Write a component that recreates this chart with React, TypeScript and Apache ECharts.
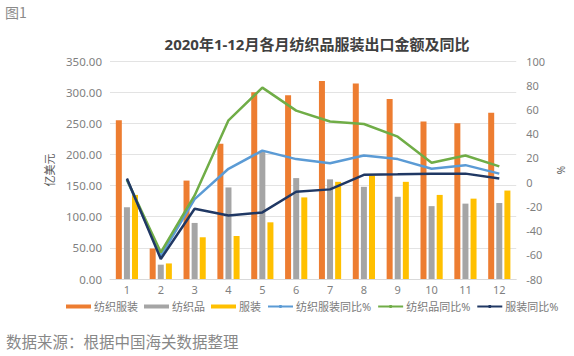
import React, { useEffect, useRef } from "react";
import * as echarts from "echarts";

const months = ["1", "2", "3", "4", "5", "6", "7", "8", "9", "10", "11", "12"];
const textileApparel = [255, 49, 158, 217, 300, 295, 318, 314, 289, 253, 250, 267];
const textiles = [115, 23, 90, 147, 206, 162, 160, 148, 132, 117, 121, 122];
const apparel = [135, 25, 67, 69, 91, 131, 156, 166, 156, 135, 129, 142];
const yoyTextileApparel = [2, -61, -14, 11, 26, 19, 15.5, 22, 19, 11, 14, 7];
const yoyTextiles = [2, -58, -11, 51, 78, 59, 50, 48, 37.5, 16, 22, 13];
const yoyApparel = [3, -63.5, -22, -27.5, -25, -8, -6, 6, 6.4, 7, 7, 3];

const FONT = "'Noto Sans', 'Noto Sans CJK SC', sans-serif";
const LABEL = "#7f7f7f";

export default function App() {
  const ref = useRef<HTMLDivElement>(null);
  useEffect(() => {
    if (!ref.current) return;
    const chart = echarts.init(ref.current, undefined, { renderer: "svg" });
    chart.setOption({
      animation: false,
      backgroundColor: "#ffffff",
      textStyle: { fontFamily: FONT },
      title: {
        text: "2020年1-12月各月纺织品服装出口金额及同比",
        left: 312,
        textAlign: "center",
        top: 31,
        textStyle: { fontSize: 15, fontWeight: "bold", color: "#404040", fontFamily: FONT },
      },
      graphic: [
        {
          type: "text",
          left: 5,
          top: 5,
          style: { text: "图1", fill: "#8a8a8a", font: "14px 'Noto Sans CJK SC'" },
        },
        {
          type: "text",
          left: 6,
          top: 333,
          style: {
            text: "数据来源：根据中国海关数据整理",
            fill: "#888888",
            font: "15.5px 'Noto Sans CJK SC'",
          },
        },
      ],
      legend: {
        left: 66,
        top: 301,
        width: 520,
        padding: 0,
        itemWidth: 25,
        itemHeight: 4,
        itemGap: 6,
        textStyle: { fontSize: 11, color: "#7a7a7a", fontFamily: FONT, padding: [0, 0, 0, -2] },
        data: [
          { name: "纺织服装", icon: "rect" },
          { name: "纺织品", icon: "rect" },
          { name: "服装", icon: "rect" },
          { name: "纺织服装同比%" },
          { name: "纺织品同比%" },
          { name: "服装同比%" },
        ],
      },
      grid: { left: 110, right: 41, top: 61, bottom: 77 },
      xAxis: {
        type: "category",
        data: months,
        axisTick: { show: false },
        axisLine: { lineStyle: { color: "#d9d9d9" } },
        axisLabel: { color: LABEL, fontSize: 11, margin: 5 },
      },
      yAxis: [
        {
          type: "value",
          min: 0,
          max: 350,
          interval: 50,
          name: "亿美元",
          nameLocation: "middle",
          nameGap: 52,
          nameRotate: 90,
          nameTextStyle: { color: "#595959", fontSize: 11 },
          axisLine: { show: false },
          axisTick: { show: false },
          axisLabel: { color: LABEL, fontSize: 11.5, margin: 8, formatter: (v: number) => v.toFixed(2) },
          splitLine: { lineStyle: { color: "#e3e3e3" } },
        },
        {
          type: "value",
          min: -80,
          max: 100,
          interval: 20,
          name: "%",
          nameLocation: "middle",
          nameGap: 34,
          nameRotate: 90,
          nameTextStyle: { color: "#595959", fontSize: 10 },
          axisLine: { show: false },
          axisTick: { show: false },
          axisLabel: { color: LABEL, fontSize: 11, margin: 10 },
          splitLine: { show: false },
        },
      ],
      series: [
        { name: "纺织服装", type: "bar", data: textileApparel, barWidth: 6, barGap: "35%", itemStyle: { color: "#ED7D31" } },
        { name: "纺织品", type: "bar", data: textiles, barWidth: 6, barGap: "35%", itemStyle: { color: "#A5A5A5" } },
        { name: "服装", type: "bar", data: apparel, barWidth: 6, barGap: "35%", itemStyle: { color: "#FFC000" } },
        {
          name: "纺织服装同比%", type: "line", yAxisIndex: 1, data: yoyTextileApparel, symbol: "none",
          lineStyle: { width: 2.5, color: "#5B9BD5" }, itemStyle: { color: "#5B9BD5" },
        },
        {
          name: "纺织品同比%", type: "line", yAxisIndex: 1, data: yoyTextiles, symbol: "none",
          lineStyle: { width: 2.5, color: "#70AD47" }, itemStyle: { color: "#70AD47" },
        },
        {
          name: "服装同比%", type: "line", yAxisIndex: 1, data: yoyApparel, symbol: "none",
          lineStyle: { width: 2.5, color: "#203864" }, itemStyle: { color: "#203864" },
        },
      ],
    });
    return () => chart.dispose();
  }, []);
  return <div ref={ref} style={{ position: "fixed", left: 0, top: 0, width: 574, height: 356 }} />;
}
